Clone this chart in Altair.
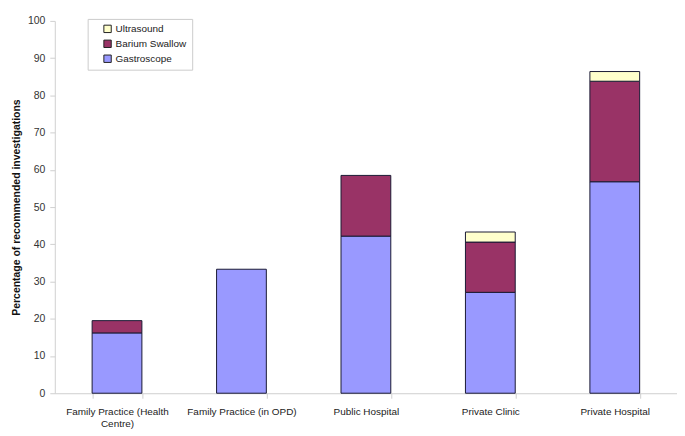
import altair as alt
import pandas as pd

categories = ["Family Practice (Health Centre)", "Family Practice (in OPD)",
              "Public Hospital", "Private Clinic", "Private Hospital"]
gastroscope = [16.2, 33.3, 42.2, 27.1, 56.8]
barium_swallow = [3.3, 0.0, 16.3, 13.5, 27.0]
ultrasound = [0.0, 0.0, 0.0, 2.7, 2.6]

series_names = ["Gastroscope", "Barium Swallow", "Ultrasound"]
series_values = [gastroscope, barium_swallow, ultrasound]
legend_order = ["Ultrasound", "Barium Swallow", "Gastroscope"]
colors = ["#FFFFCC", "#993366", "#9999FF"]

rows = []
for si, (name, vals) in enumerate(zip(series_names, series_values)):
    for c, v in zip(categories, vals):
        rows.append({"category": c, "series": name, "value": v, "order": si})
df = pd.DataFrame(rows)

label_expr = ("datum.label == 'Family Practice (Health Centre)' ? "
              "['Family Practice (Health', 'Centre)'] : datum.label")

chart = alt.Chart(df).transform_filter(alt.datum.value > 0).mark_bar(
    stroke="#1a1a33", strokeWidth=1
).encode(
    x=alt.X("category:N", sort=categories, title=None,
            scale=alt.Scale(paddingInner=0.6, paddingOuter=0.3),
            axis=alt.Axis(labelAngle=0, labelExpr=label_expr, labelFontSize=10,
                          labelFont="Liberation Sans", labelColor="#222",
                          domainColor="#d0d0d0", tickColor="#d0d0d0",
                          tickBand="extent", tickSize=5, labelPadding=8,
                          labelLimit=200, labelLineHeight=12)),
    y=alt.Y("value:Q", stack="zero", title="Percentage of recommended investigations",
            scale=alt.Scale(domain=[0, 100], nice=False),
            axis=alt.Axis(values=list(range(0, 101, 10)), grid=False,
                          labelFont="Liberation Sans", labelFontSize=10.5, labelColor="#333",
                          labelPadding=5,
                          titleFont="Liberation Sans", titleFontSize=10.5, titleFontWeight="bold",
                          titleColor="#111", titlePadding=6,
                          domainColor="#d0d0d0", tickColor="#d0d0d0", tickSize=5)),
    color=alt.Color("series:N",
                    scale=alt.Scale(domain=legend_order, range=colors),
                    legend=alt.Legend(title=None, orient="none", legendX=33, legendY=-2,
                                      symbolType="square", symbolSize=55,
                                      symbolStrokeColor="#222", symbolStrokeWidth=1,
                                      labelFont="Liberation Sans", labelFontSize=10,
                                      labelColor="#222", rowPadding=3, labelOffset=3,
                                      strokeColor="#cccccc", padding=5,
                                      fillColor="white", labelLimit=200,
                                      symbolOffset=10)),
    order=alt.Order("order:Q", sort="ascending"),
).properties(
    width=625, height=374,
    autosize=alt.AutoSizeParams(type="none"),
    padding={"left": 47, "top": 12, "right": 0, "bottom": 42},
).configure_view(stroke=None)

chart.save("out.html", embed_options={"renderer": "svg", "actions": False})
